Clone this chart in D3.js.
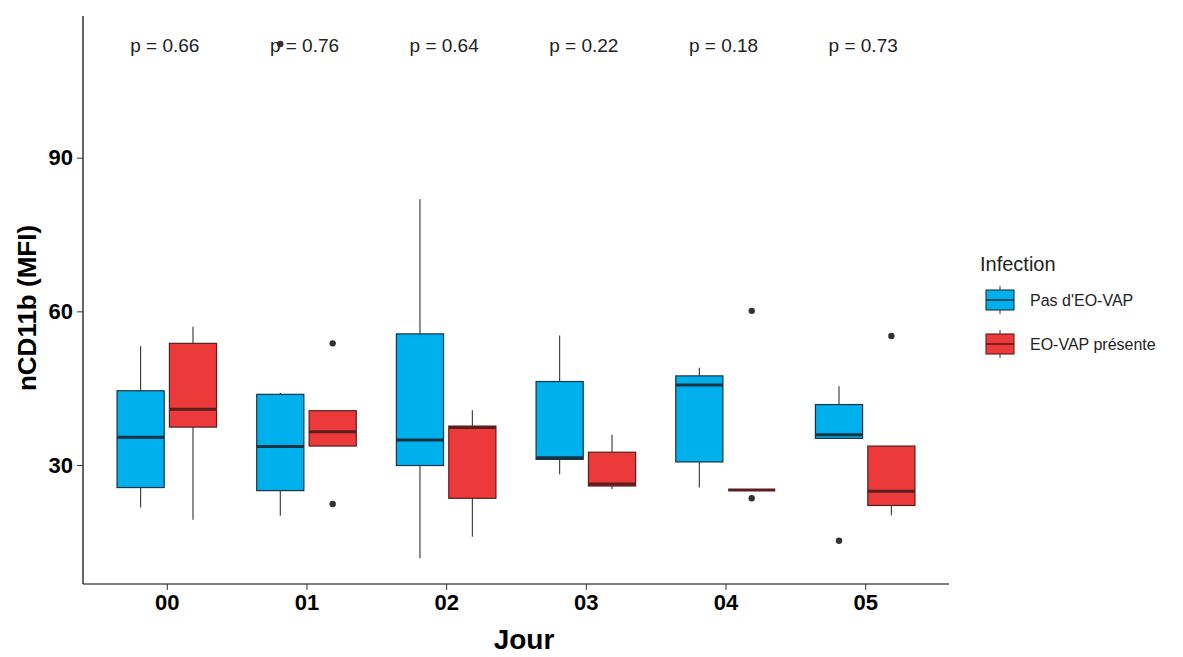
<!DOCTYPE html>
<html>
<head>
<meta charset="utf-8">
<script src="https://cdnjs.cloudflare.com/ajax/libs/d3/7.8.5/d3.min.js"></script>
<style>
  body { margin: 0; background: #fff; }
  text { font-family: "Liberation Sans", Arial, sans-serif; }
</style>
</head>
<body>
<div id="chart"></div>
<script>
// boxplot nCD11b par jour

const days = ["00", "01", "02", "03", "04", "05"];
const groups = ["Pas d'EO-VAP", "EO-VAP présente"];
const pValues = ["0.66", "0.76", "0.64", "0.22", "0.18", "0.73"];
const yTicks = [30, 60, 90];

// [whisker low, Q1, median, Q3, whisker high] for each day
const pasStats = [
  [21.7, 25.6, 35.4, 44.5, 53.2],
  [20.1, 25.0, 33.6, 43.8, 44.1],
  [11.8, 29.9, 34.9, 55.6, 81.9],
  [28.2, 31.1, 31.4, 46.3, 55.3],
  [25.6, 30.6, 45.6, 47.4, 49.0],
  [35.2, 35.2, 35.9, 41.8, 45.4]
];
const presStats = [
  [19.3, 37.4, 40.9, 53.75, 57.0],
  [33.7, 33.7, 36.5, 40.6, 40.6],
  [16.0, 23.5, 37.3, 37.6, 40.7],
  [25.3, 25.9, 26.3, 32.5, 35.9],
  [25.1, 25.1, 25.1, 25.1, 25.1],
  [20.2, 22.1, 24.9, 33.7, 33.7]
];
const pasOutliers = [[], [112.2], [], [], [], [15.2]];
const presOutliers = [[], [53.75, 22.4], [], [], [60.1, 23.5], [55.2]];

const pLabelValue = 112; // height of p labels, in data units

const width = 1183;
const height = 657;
const plot = { left: 83, right: 949, top: 16, bottom: 584 };

const fills = ["#00B0EC", "#EC3A3A"];
const strokes = ["#1a3344", "#5a1e1e"];

const svg = d3.select("#chart")
  .append("svg")
  .attr("width", width)
  .attr("height", height);

const x = d3.scalePoint()
  .domain(days)
  .range([plot.left, plot.right])
  .padding(0.6);

const y = d3.scaleLinear()
  .domain([6.77, 117.66])
  .range([plot.bottom, plot.top]);

const step = x.step();
const boxW = step * 0.3375;
const offsets = [-step * 0.1875, step * 0.1875];

// axes
const yAxis = svg.append("g")
  .attr("transform", `translate(${plot.left},0)`)
  .call(d3.axisLeft(y).tickValues(yTicks).tickSize(6).tickPadding(4));

const xAxis = svg.append("g")
  .attr("transform", `translate(0,${plot.bottom})`)
  .call(d3.axisBottom(x).tickSize(6).tickPadding(4));

[xAxis, yAxis].forEach(ax => {
  ax.select(".domain").attr("stroke", "#000").attr("stroke-width", 1.2);
  ax.selectAll(".tick line").attr("stroke", "#333");
  ax.selectAll(".tick text")
    .style("font-size", "22px")
    .style("font-weight", "bold")
    .attr("fill", "#000");
});
// ggplot axis lines stop at the panel edge
yAxis.select(".domain").attr("d", `M0,${plot.bottom}V${plot.top}`);
xAxis.select(".domain").attr("d", `M${plot.left},0H${plot.right}`);

svg.append("text")
  .attr("transform", `translate(36,${(plot.top + plot.bottom) / 2 + 8}) rotate(-90)`)
  .attr("text-anchor", "middle")
  .style("font-size", "26px")
  .style("font-weight", "bold")
  .text("nCD11b (MFI)");

svg.append("text")
  .attr("x", (plot.left + plot.right) / 2 + 8)
  .attr("y", 649)
  .attr("text-anchor", "middle")
  .style("font-size", "28px")
  .style("font-weight", "bold")
  .text("Jour");

// boxes
function drawBoxes(stats, outliers, g) {
  const layer = svg.append("g");
  stats.forEach((s, i) => {
    const cx = x(days[i]) + offsets[g];
    const [lo, q1, med, q3, hi] = s;

    layer.append("line")
      .attr("x1", cx).attr("x2", cx)
      .attr("y1", y(hi)).attr("y2", y(q3))
      .attr("stroke", "#333").attr("stroke-width", 1.1);
    layer.append("line")
      .attr("x1", cx).attr("x2", cx)
      .attr("y1", y(q1)).attr("y2", y(lo))
      .attr("stroke", "#333").attr("stroke-width", 1.1);

    layer.append("rect")
      .attr("x", cx - boxW / 2)
      .attr("y", y(q3))
      .attr("width", boxW)
      .attr("height", y(q1) - y(q3))
      .attr("fill", fills[g])
      .attr("stroke", strokes[g])
      .attr("stroke-width", 1.2);

    layer.append("line")
      .attr("x1", cx - boxW / 2).attr("x2", cx + boxW / 2)
      .attr("y1", y(med)).attr("y2", y(med))
      .attr("stroke", strokes[g])
      .attr("stroke-width", 3);

    layer.selectAll(null)
      .data(outliers[i])
      .enter()
      .append("circle")
      .attr("cx", cx)
      .attr("cy", d => y(d))
      .attr("r", 3.2)
      .attr("fill", "#333");
  });
}

drawBoxes(pasStats, pasOutliers, 0);
drawBoxes(presStats, presOutliers, 1);

// p-values
svg.append("g")
  .selectAll("text")
  .data(pValues)
  .enter()
  .append("text")
  .attr("x", (d, i) => x(days[i]) - 2)
  .attr("y", y(pLabelValue))
  .attr("dy", "0.35em")
  .attr("text-anchor", "middle")
  .style("font-size", "19px")
  .attr("fill", "#222")
  .text(d => `p = ${d}`);

// legend
const legend = svg.append("g").attr("transform", "translate(980,0)");

legend.append("text")
  .attr("x", 0)
  .attr("y", 271)
  .style("font-size", "20px")
  .attr("fill", "#222")
  .text("Infection");

groups.forEach((grp, i) => {
  const row = legend.append("g")
    .attr("transform", `translate(6,${300 + i * 44})`);

  row.append("line")
    .attr("x1", 14).attr("x2", 14)
    .attr("y1", -14).attr("y2", 14)
    .attr("stroke", "#333");
  row.append("rect")
    .attr("x", 0).attr("y", -10)
    .attr("width", 28).attr("height", 20)
    .attr("fill", fills[i])
    .attr("stroke", strokes[i])
    .attr("stroke-width", 1.1);
  row.append("line")
    .attr("x1", 0).attr("x2", 28)
    .attr("y1", 0).attr("y2", 0)
    .attr("stroke", strokes[i])
    .attr("stroke-width", 1.6);

  row.append("text")
    .attr("x", 44)
    .attr("y", 0)
    .attr("dy", "0.35em")
    .style("font-size", "16px")
    .attr("fill", "#222")
    .text(grp);
});
</script>
</body>
</html>
